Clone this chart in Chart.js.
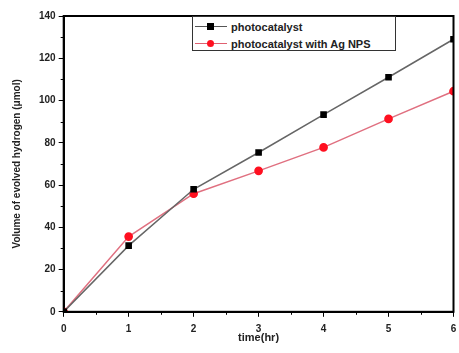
<!DOCTYPE html>
<html>
<head>
<meta charset="utf-8">
<script src="https://cdn.jsdelivr.net/npm/chart.js@4.4.0/dist/chart.umd.min.js"></script>
<style>
  body { margin: 0; background: #fff; }
  #wrap { position: relative; width: 459px; height: 353px; }
  #legend {
    position: absolute; left: 192px; top: 16px; width: 204px; height: 35px;
    border: 1px solid #333; background: #fff; box-sizing: border-box;
    font: bold 11px "Liberation Sans", Arial, sans-serif; color: #222;
  }
  .row { display: flex; align-items: center; height: 15px; margin-top: 2px; }
  .key { position: relative; width: 34px; height: 15px; margin-right: 4px; }
  .key .ln { position: absolute; left: 2px; right: 0; top: 7px; height: 1px; }
  .key .mk { position: absolute; left: 14px; top: 4px; width: 7px; height: 7px; }
</style>
</head>
<body>
<div id="wrap">
  <canvas id="myChart" width="459" height="353"></canvas>
  <div id="legend"></div>
</div>
<script>
// datos
const tiempos = [0, 1, 2, 3, 4, 5, 6];
const fotocatalizador = [0, 31.3, 58, 75.4, 93.3, 111, 129];
const fotocatalizadorAg = [0, 35.6, 55.9, 66.7, 77.8, 91.3, 104.4];
const nombres = ["photocatalyst", "photocatalyst with Ag NPS"];
const yTicks = [0, 20, 40, 60, 80, 100, 120, 140];
const xTicks = [0, 1, 2, 3, 4, 5, 6];

const fuente = { family: "'Liberation Sans', Arial, sans-serif", size: 10, weight: "bold" };

// leyenda html
const estilos = [
  { linea: "#555", fondo: "#000", radio: "0" },
  { linea: "#e06070", fondo: "#ff1020", radio: "50%" },
];
document.querySelector("#legend").innerHTML = nombres.map((n, i) => `
  <div class="row">
    <div class="key"><div class="ln" style="background:${estilos[i].linea}"></div>
    <div class="mk" style="background:${estilos[i].fondo};border-radius:${estilos[i].radio}"></div></div>
    <span>${n}</span>
  </div>`).join("");

// marco y ticks menores
const marco = {
  id: "marco",
  afterDraw(chart) {
    const { ctx, chartArea: a, scales } = chart;
    ctx.save();
    ctx.strokeStyle = "#000";
    ctx.lineWidth = 2;
    ctx.strokeRect(a.left, a.top, a.right - a.left, a.bottom - a.top);
    ctx.lineWidth = 1;
    ctx.beginPath();
    for (let v = 10; v < 140; v += 20) {
      const y = Math.round(scales.y.getPixelForValue(v)) + 0.5;
      ctx.moveTo(a.left, y);
      ctx.lineTo(a.left - 3, y);
    }
    for (let v = 0.5; v < 6; v += 1) {
      const x = Math.round(scales.x.getPixelForValue(v)) + 0.5;
      ctx.moveTo(x, a.bottom);
      ctx.lineTo(x, a.bottom + 3);
    }
    ctx.stroke();
    ctx.restore();
  },
};

const config = {
  type: "line",
  data: {
    datasets: [
      {
        label: nombres[0],
        data: tiempos.map((t, i) => ({ x: t, y: fotocatalizador[i] })),
        borderColor: "#666",
        borderWidth: 1.5,
        pointStyle: "rect",
        pointRadius: 3.6,
        pointBackgroundColor: "#000",
        pointBorderColor: "#000",
      },
      {
        label: nombres[1],
        data: tiempos.map((t, i) => ({ x: t, y: fotocatalizadorAg[i] })),
        borderColor: "#e07080",
        borderWidth: 1.5,
        pointStyle: "circle",
        pointRadius: 3.6,
        pointBackgroundColor: "#ff1020",
        pointBorderColor: "#ff1020",
      },
    ],
  },
  options: {
    responsive: false,
    animation: false,
    layout: { padding: { top: 16, right: 2, left: 7, bottom: 8 } },
    plugins: { legend: { display: false }, tooltip: { enabled: false } },
    scales: {
      x: {
        type: "linear",
        min: 0,
        max: 6,
        afterBuildTicks: (s) => { s.ticks = xTicks.map((v) => ({ value: v })); },
        afterFit: (s) => { s.paddingRight = 0; },
        ticks: { color: "#222", font: fuente, padding: 6, maxRotation: 0 },
        grid: { drawOnChartArea: false, tickLength: 5, color: "#000" },
        border: { color: "#000", width: 2 },
        title: { display: true, text: "time(hr)", color: "#222", font: { ...fuente, size: 11 }, padding: { top: -9, bottom: 0 } },
      },
      y: {
        min: 0,
        max: 140,
        afterBuildTicks: (s) => { s.ticks = yTicks.map((v) => ({ value: v })); },
        ticks: { color: "#222", font: fuente, padding: 3 },
        grid: { drawOnChartArea: false, tickLength: 5, color: "#000" },
        border: { color: "#000", width: 2 },
        title: { display: true, text: "Volume of evolved hydrogen (μmol)", color: "#222", font: { ...fuente, size: 10 }, padding: { bottom: 13 } },
      },
    },
  },
  plugins: [marco],
};

new Chart(document.getElementById("myChart"), config);
</script>
</body>
</html>
